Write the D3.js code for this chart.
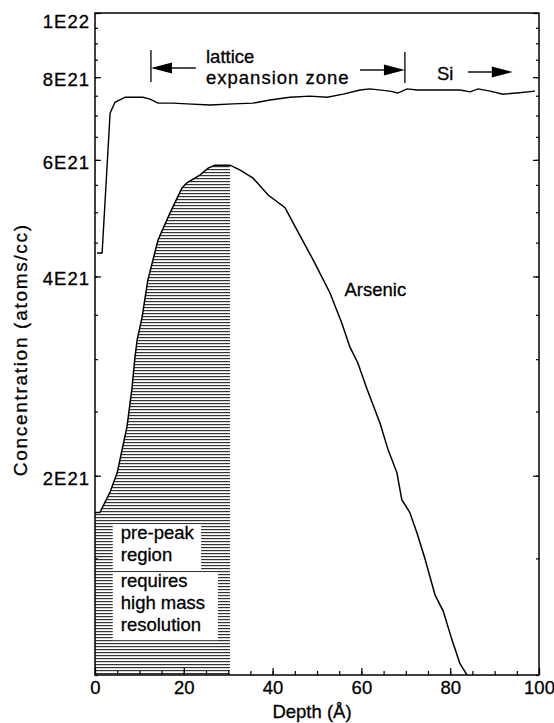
<!DOCTYPE html>
<html>
<head>
<meta charset="utf-8">
<script src="https://cdn.jsdelivr.net/npm/d3@7"></script>
<style>
body { margin: 0; background: #fff; }
text { font-family: "Liberation Sans", Arial, Helvetica, sans-serif; fill: #000; stroke: #000; stroke-width: 0.3px; }
</style>
</head>
<body>
<div id="chart"></div>
<script>
// depth in Angstrom, concentration in units of 1E21 atoms/cc
var siliconProfile = [
  [0.45, 4.34], [1.6, 4.34], [3.4, 7.06], [4.5, 7.33], [6.8, 7.46], [10.8, 7.46],
  [12.4, 7.41], [14.2, 7.31], [17.6, 7.31], [20.7, 7.29], [25.9, 7.26], [31.1, 7.29],
  [35.6, 7.31], [39.4, 7.39], [43.9, 7.46], [48.4, 7.49], [52.3, 7.46], [55.9, 7.54],
  [59.7, 7.65], [61.9, 7.68], [66.4, 7.62], [68.2, 7.57], [70.3, 7.68], [72.5, 7.65],
  [77.0, 7.65], [82.2, 7.65], [84.5, 7.60], [86.3, 7.68], [89.0, 7.62], [91.9, 7.54],
  [95.0, 7.57], [99.1, 7.62]
];
var arsenicProfile = [
  [0, 1.76], [1.1, 1.76], [3.4, 1.89], [5.0, 2.02], [6.1, 2.19], [7.2, 2.37],
  [8.3, 2.70], [9.0, 3.02], [9.5, 3.21], [10.6, 3.47], [11.9, 3.95], [14.2, 4.54],
  [16.9, 4.99], [19.6, 5.44], [20.7, 5.54], [23.6, 5.69], [25.5, 5.83], [27.0, 5.89],
  [30.4, 5.89], [32.7, 5.79], [35.6, 5.63], [39.0, 5.31], [42.8, 5.08], [45.5, 4.70],
  [49.1, 4.24], [52.9, 3.78], [55.6, 3.40], [57.4, 3.13], [59.2, 2.96], [61.3, 2.70],
  [64.2, 2.40], [66.0, 2.19], [68.0, 2.02], [69.1, 1.84], [70.9, 1.76], [72.5, 1.64],
  [74.3, 1.50], [76.6, 1.32], [78.4, 1.25], [80.4, 1.13], [82.2, 1.04], [83.8, 1.0]
];
var depthTicks = [0, 20, 40, 60, 80, 100];
var concTicks = [2, 4, 6, 8, 10];
var concTickLabels = ["2E21", "4E21", "6E21", "8E21", "1E22"];
var prePeakEnd = 30.4;   // hatched pre-peak region ends here (depth)
var zoneStart = 12.6, zoneEnd = 69.8;   // lattice expansion zone limits

var margin = {top: 13, right: 15, bottom: 48, left: 95},
    width = 554 - margin.left - margin.right,
    height = 723 - margin.top - margin.bottom;

var svg = d3.select("#chart")
  .append("svg")
    .attr("width", width + margin.left + margin.right)
    .attr("height", height + margin.top + margin.bottom)
  .append("g")
    .attr("transform", "translate(" + margin.left + "," + margin.top + ")");

var x = d3.scaleLinear().domain([0, 100]).range([0, width]);
var y = d3.scaleLog().domain([1, 10]).range([height, 0]);

// hatch pattern for the pre-peak region
var defs = svg.append("defs");
var pat = defs.append("pattern")
    .attr("id", "hatch")
    .attr("patternUnits", "userSpaceOnUse")
    .attr("width", 8)
    .attr("height", 3);
pat.append("rect").attr("width", 8).attr("height", 1.2).attr("fill", "#333");

svg.append("path")
  .datum(arsenicProfile.filter(function(d) { return d[0] <= prePeakEnd; }))
  .attr("fill", "url(#hatch)")
  .attr("d", d3.area()
    .x(function(d) { return x(d[0]); })
    .y0(height)
    .y1(function(d) { return y(d[1]); }));

// white label boxes inside the hatched region
function labelBox(d0, d1, top, lines) {
  svg.append("rect")
    .attr("x", x(d0)).attr("y", top)
    .attr("width", x(d1) - x(d0)).attr("height", lines.length * 22 + 2)
    .attr("fill", "#fff");
  lines.forEach(function(t, i) {
    svg.append("text")
      .attr("x", x(d0) + 8).attr("y", top + 15 + i * 22)
      .attr("font-size", 18.5)
      .text(t);
  });
}
labelBox(4.0, 23.9, y(1.69), ["pre-peak", "region"]);
labelBox(4.0, 27.7, y(1.43), ["requires", "high mass", "resolution"]);

// lines
var line = d3.line()
  .x(function(d) { return x(d[0]); })
  .y(function(d) { return y(d[1]); });

svg.append("path")
  .datum(siliconProfile)
  .attr("fill", "none")
  .attr("stroke", "#000")
  .attr("stroke-width", 1.4)
  .attr("d", line);

svg.append("path")
  .datum(arsenicProfile)
  .attr("fill", "none")
  .attr("stroke", "#000")
  .attr("stroke-width", 1.5)
  .attr("d", line);

// axes, ticks pointing inward
var xMinor = d3.range(0, 101, 5);
var yMinor = d3.range(1, 10.01, 0.5);

svg.append("g")
  .attr("transform", "translate(0," + height + ")")
  .call(d3.axisBottom(x).tickValues(xMinor).tickSizeInner(-4).tickSizeOuter(0).tickFormat(""));
var xAxis = svg.append("g")
  .attr("transform", "translate(0," + height + ")")
  .call(d3.axisBottom(x).tickValues(depthTicks).tickSizeInner(-7).tickSizeOuter(0).tickPadding(6));
xAxis.selectAll("text").attr("font-size", 18.5).style("font-family", null);

svg.append("g")
  .call(d3.axisLeft(y).tickValues(yMinor).tickSizeInner(-3).tickSizeOuter(0).tickFormat(""));
var yAxis = svg.append("g")
  .call(d3.axisLeft(y).tickValues(concTicks).tickSizeInner(-6).tickSizeOuter(0).tickPadding(5)
    .tickFormat(function(d, i) { return concTickLabels[i]; }));
yAxis.selectAll("text")
  .attr("font-size", 18.5)
  .attr("letter-spacing", 1)
  .style("font-family", null)
  .attr("dy", function(d) { return d === 10 ? "0.8em" : "0.45em"; });

svg.append("g")
  .attr("transform", "translate(" + width + ",0)")
  .call(d3.axisRight(y).tickValues(yMinor).tickSizeInner(-3).tickSizeOuter(0).tickFormat(""));
svg.append("g")
  .attr("transform", "translate(" + width + ",0)")
  .call(d3.axisRight(y).tickValues(concTicks).tickSizeInner(-6).tickSizeOuter(0).tickFormat(""));

svg.selectAll(".domain").remove();
svg.selectAll(".tick line").attr("stroke", "#000").attr("stroke-width", 1.2);
svg.selectAll(".tick text").attr("fill", "#000");

svg.append("rect")
  .attr("width", width).attr("height", height)
  .attr("fill", "none")
  .attr("stroke", "#000")
  .attr("stroke-width", 1.5);

// axis titles
svg.append("text")
  .attr("x", width / 2 - 5)
  .attr("y", height + 43)
  .attr("text-anchor", "middle")
  .attr("font-size", 18.5)
  .text("Depth (Å)");

svg.append("text")
  .attr("transform", "translate(" + (-68) + "," + (y(3.1)) + ") rotate(-90)")
  .attr("text-anchor", "middle")
  .attr("font-size", 19)
  .attr("letter-spacing", 1.7)
  .text("Concentration (atoms/cc)");

// annotations
svg.append("text")
  .attr("x", x(56.2)).attr("y", y(3.8) + 5)
  .attr("font-size", 18.5)
  .text("Arsenic");

function arrow(from, to, yy) {
  var dir = to > from ? 1 : -1;
  var xt = x(to), xh = xt - dir * 21;
  svg.append("line")
    .attr("x1", x(from)).attr("x2", xh)
    .attr("y1", yy).attr("y2", yy)
    .attr("stroke", "#000").attr("stroke-width", 1.4);
  svg.append("path")
    .attr("d", "M" + xt + "," + yy + "L" + xh + "," + (yy - 5.5) + "L" + xh + "," + (yy + 5.5) + "Z")
    .attr("fill", "#000");
}
function bar(d, y0, y1) {
  svg.append("line")
    .attr("x1", x(d)).attr("x2", x(d))
    .attr("y1", y0).attr("y2", y1)
    .attr("stroke", "#000").attr("stroke-width", 1.3);
}

bar(zoneStart, 37, 69);
arrow(22.7, zoneStart, 55);
bar(zoneEnd, 39, 70);
arrow(59.7, zoneEnd, 57);
arrow(84.0, 94.1, 59);

svg.append("text")
  .attr("x", x(25.0)).attr("y", 50)
  .attr("font-size", 18.5)
  .text("lattice");
svg.append("text")
  .attr("x", x(25.0)).attr("y", 71)
  .attr("font-size", 18.5)
  .attr("letter-spacing", 1)
  .text("expansion zone");
svg.append("text")
  .attr("x", x(77.0)).attr("y", 67)
  .attr("font-size", 18.5)
  .text("Si");
</script>
</body>
</html>
